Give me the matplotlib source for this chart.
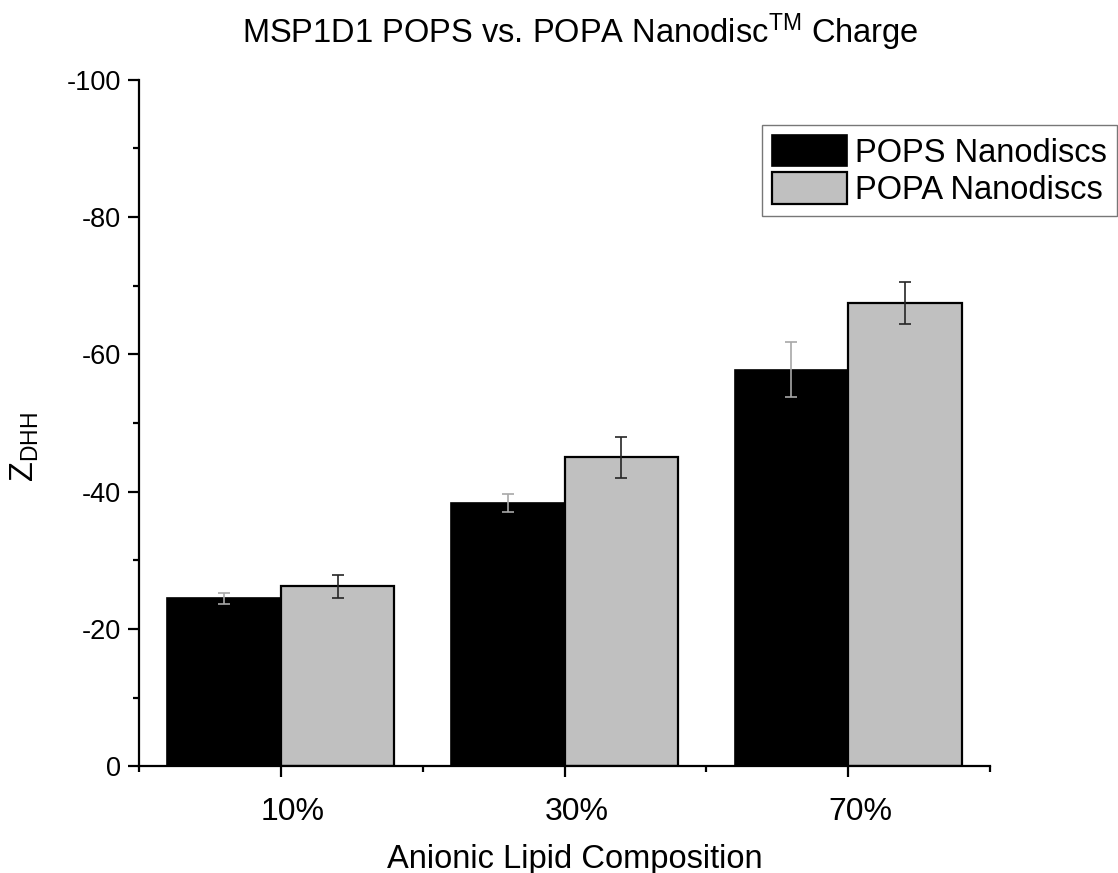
import matplotlib
matplotlib.use("Agg")
import matplotlib.pyplot as plt
import matplotlib.transforms as mtransforms
import numpy as np

plt.rcParams["font.family"] = ["Liberation Sans", "DejaVu Sans"]
plt.rcParams["mathtext.fontset"] = "custom"
plt.rcParams["mathtext.rm"] = "Liberation Sans"
plt.rcParams["mathtext.it"] = "Liberation Sans"
plt.rcParams["axes.unicode_minus"] = False

# Zeta potential (mV) by anionic lipid fraction
compositions = ["10%", "30%", "70%"]
pops_charge = [-24.5, -38.3, -57.8]
pops_err = [0.8, 1.3, 4.0]
popa_charge = [-26.2, -45.0, -67.5]
popa_err = [1.7, 3.0, 3.0]
series_names = ["POPS Nanodiscs", "POPA Nanodiscs"]
y_ticks = [0, -20, -40, -60, -80, -100]

W, H = 1118, 873
fig = plt.figure(figsize=(W / 100, H / 100), dpi=100)
ax = fig.add_axes([139 / W, 1 - 766.3 / H, 851 / W, 686.5 / H])

x = np.arange(1, len(compositions) + 1)
width = 0.4

b1 = ax.bar(x - width / 2, pops_charge, width, color="black",
            edgecolor="black", linewidth=1.2, zorder=2)
b2 = ax.bar(x + width / 2, popa_charge, width, color="#c0c0c0",
            edgecolor="black", linewidth=1.6, zorder=2)
ax.errorbar(x - width / 2, pops_charge, yerr=pops_err, fmt="none",
            ecolor="#a8a8a8", elinewidth=1.2, capsize=4.3, capthick=1.2, zorder=3)
ax.errorbar(x + width / 2, popa_charge, yerr=popa_err, fmt="none",
            ecolor="#262626", elinewidth=1.2, capsize=4.3, capthick=1.2, zorder=3)

ax.set_xlim(0.5, 3.5)
ax.set_ylim(0, -100)
ax.set_yticks(y_ticks)
ax.set_yticklabels([str(v) for v in y_ticks])
ax.set_yticks(np.arange(-10, -100, -20), minor=True)
ax.set_xticks(x)
ax.set_xticklabels(compositions)
ax.set_xticks(np.arange(0.5, 3.6, 1.0), minor=True)

for side in ["top", "right"]:
    ax.spines[side].set_visible(False)
for side in ["left", "bottom"]:
    ax.spines[side].set_linewidth(1.6)

ax.tick_params(axis="both", which="major", direction="out", length=8,
               width=1.6, color="black")
ax.tick_params(axis="both", which="minor", direction="out", length=4,
               width=1.6, color="black")
ax.tick_params(axis="y", which="major", labelsize=19.5, pad=5)
ax.tick_params(axis="x", which="major", labelsize=23, pad=14)

# category labels sit a little right of their ticks
shift = mtransforms.ScaledTranslation(12 / 100, 0, fig.dpi_scale_trans)
for lbl in ax.get_xticklabels():
    lbl.set_transform(lbl.get_transform() + shift)

fig.text(575 / W, 1 - 868 / H, "Anionic Lipid Composition", fontsize=23.5,
         ha="center", va="baseline")
fig.text(41 / W, 1 - 447 / H, r"Z$_{\mathrm{DHH}}$", fontsize=23.5,
         rotation=90, ha="right", va="center")
fig.text(580 / W, 1 - 43 / H,
         r"MSP1D1 POPS vs. POPA Nanodisc$^{\mathrm{TM}}$ Charge",
         fontsize=23.5, ha="center", va="baseline")

leg = fig.legend([b1, b2], series_names, loc="upper left",
                 bbox_to_anchor=(762 / W, 1 - 125 / H), borderaxespad=0,
                 fontsize=23.5, frameon=True, fancybox=False,
                 handlelength=2.3, handleheight=1.1, handletextpad=0.25,
                 labelspacing=0.12, borderpad=0.3)
leg.get_frame().set_edgecolor("#555555")
leg.get_frame().set_linewidth(1.0)

fig.savefig("out.png", dpi=100)
